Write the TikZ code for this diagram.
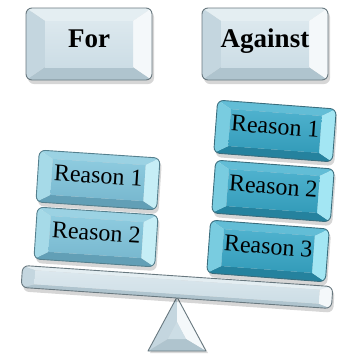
\documentclass[tikz,border=0pt]{standalone}
\usepackage{fontspec}
\setmainfont{Liberation Serif}
\definecolor{gfacetop}{HTML}{DCE8EE}\definecolor{gfacebot}{HTML}{CCDDE5}
\definecolor{gtop}{HTML}{E4EEF2}\definecolor{gleft}{HTML}{C4D6DF}
\definecolor{gright}{HTML}{F4F8FA}\definecolor{gbot}{HTML}{AFC4CE}
\definecolor{gline}{HTML}{68787F}
\definecolor{lfacetop}{HTML}{8ECBDF}\definecolor{lfacebot}{HTML}{78B8CF}
\definecolor{ltop}{HTML}{9BD2E3}\definecolor{lleft}{HTML}{A6DAE8}
\definecolor{lright}{HTML}{C6EEF6}\definecolor{lbot}{HTML}{629FB6}
\definecolor{lline}{HTML}{55808E}
\definecolor{dfacetop}{HTML}{4FB2CE}\definecolor{dfacebot}{HTML}{339BB9}
\definecolor{dtop}{HTML}{62BDD6}\definecolor{dleft}{HTML}{79CCE0}
\definecolor{dright}{HTML}{A3E6F3}\definecolor{dbot}{HTML}{25829E}
\definecolor{dline}{HTML}{3B6E7E}
% #1 centre, #2 width, #3 height, #4 angle, #5 bevel x, #6 bevel y, #7 scheme, #8 name, #9 text
\newcommand\bevbox[9]{%
\begin{scope}[shift={#1},rotate=#4]
 \fill[black,opacity=.16,rounded corners=6] ({-#2/2+2},{-#3/2+3}) rectangle ({#2/2+2},{#3/2+4});
 \begin{scope}
  \clip[rounded corners=6] ({-#2/2},{-#3/2}) rectangle ({#2/2},{#3/2});
  \fill[#7top] ({-#2/2},{-#3/2}) -- ({#2/2},{-#3/2}) -- ({#2/2-#5},{-#3/2+#6}) -- ({-#2/2+#5},{-#3/2+#6}) -- cycle;
  \fill[#7bot] ({-#2/2},{#3/2}) -- ({#2/2},{#3/2}) -- ({#2/2-#5},{#3/2-#6}) -- ({-#2/2+#5},{#3/2-#6}) -- cycle;
  \fill[#7left] ({-#2/2},{-#3/2}) -- ({-#2/2+#5},{-#3/2+#6}) -- ({-#2/2+#5},{#3/2-#6}) -- ({-#2/2},{#3/2}) -- cycle;
  \fill[#7right] ({#2/2},{-#3/2}) -- ({#2/2-#5},{-#3/2+#6}) -- ({#2/2-#5},{#3/2-#6}) -- ({#2/2},{#3/2}) -- cycle;
  \shade[top color=#7facetop,bottom color=#7facebot] ({-#2/2+#5},{-#3/2+#6}) rectangle ({#2/2-#5},{#3/2-#6});
 \end{scope}
 \draw[#7line,line width=.9pt,rounded corners=6] ({-#2/2},{-#3/2}) rectangle ({#2/2},{#3/2});
 \node[transform shape,inner sep=0pt,text height=.66em,text depth=0pt] (#8) at (0,0) {#9};
\end{scope}}
\tikzset{reasonfont/.style={font=\fontsize{24}{28}\selectfont},
  headfont/.style={font=\bfseries\fontsize{27}{32}\selectfont}}
\begin{document}
\begin{tikzpicture}[x=1pt,y=-1pt]
\useasboundingbox (0,0) rectangle (337,354);
% fulcrum
\coordinate (A) at (177,297); \coordinate (B) at (148,351); \coordinate (C) at (206,351);
\coordinate (a) at (177,322); \coordinate (b) at (168,339); \coordinate (c) at (186,339);
\fill[black,opacity=.15] (178,300) -- (150,353) -- (208,353) -- cycle;
\fill[gleft] (A) -- (B) -- (b) -- (a) -- cycle;
\fill[gright] (A) -- (C) -- (c) -- (a) -- cycle;
\fill[gbot] (B) -- (C) -- (c) -- (b) -- cycle;
\fill[gfacebot] (a) -- (b) -- (c) -- cycle;
\draw[gline,line width=.9pt,line join=round] (A) -- (B) -- (C) -- cycle;
% beam
\bevbox{(177,287)}{311}{22}{-3.9}{13}{4}{g}{beam}{}
% headers
\bevbox{(89,44)}{126}{72}{0}{19}{13}{g}{for}{\bfseries\fontsize{27}{32}\selectfont For}
\bevbox{(265,44)}{126}{72}{0}{19}{13}{g}{against}{\bfseries\fontsize{27}{32}\selectfont Against}
% left reasons
\bevbox{(98,180)}{121}{52}{-3.8}{14}{8}{l}{lr1}{\fontsize{24}{28}\selectfont Reason 1}
\bevbox{(96,237)}{121}{52}{-3.8}{14}{8}{l}{lr2}{\fontsize{24}{28}\selectfont Reason 2}
% right reasons
\bevbox{(275,131)}{119}{53}{-4.3}{14}{8}{d}{rr1}{\fontsize{24}{28}\selectfont Reason 1}
\bevbox{(273,191)}{119}{53}{-4.3}{14}{8}{d}{rr2}{\fontsize{24}{28}\selectfont Reason 2}
\bevbox{(268,251)}{119}{53}{-4.3}{14}{8}{d}{rr3}{\fontsize{24}{28}\selectfont Reason 3}
\end{tikzpicture}
\end{document}
